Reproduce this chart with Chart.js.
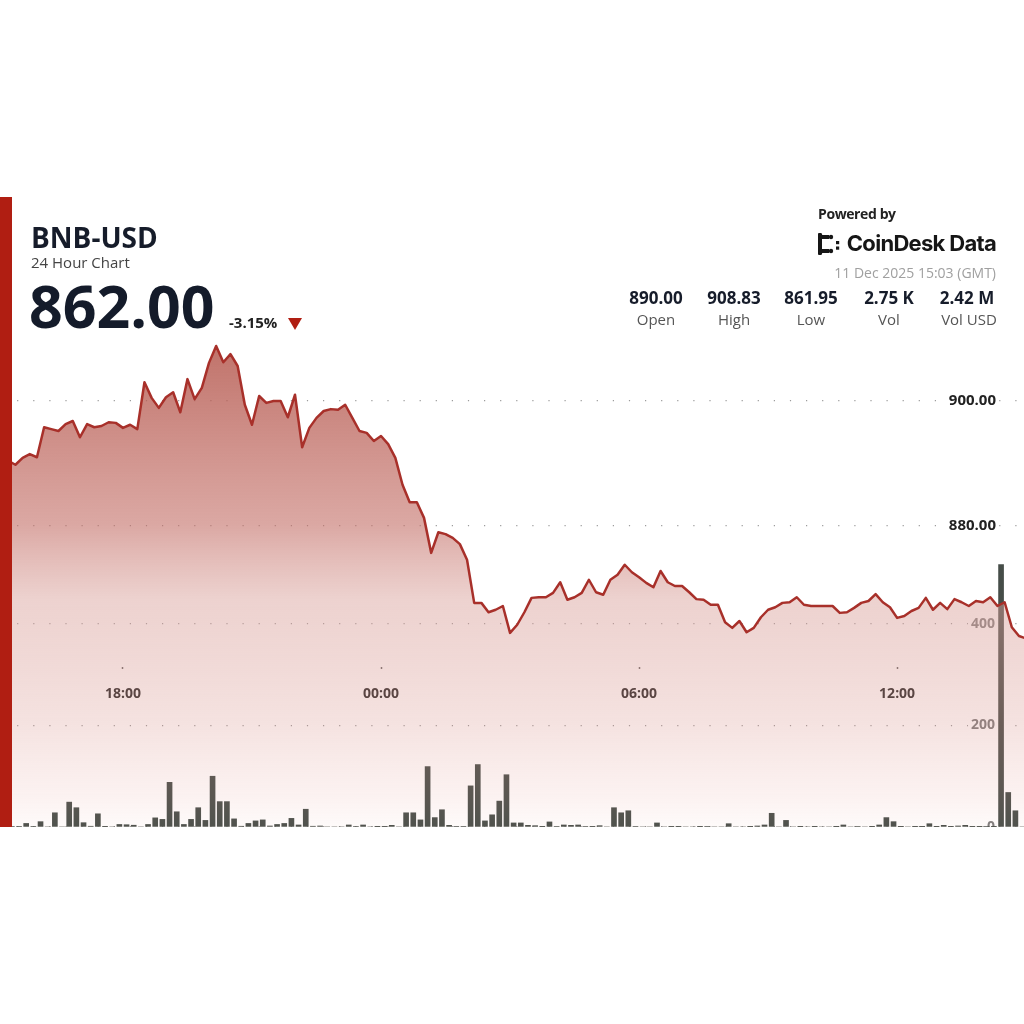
<!DOCTYPE html>
<html>
<head>
<meta charset="utf-8">
<script src="https://cdn.jsdelivr.net/npm/chart.js@4.4.1/dist/chart.umd.min.js"></script>
<style>
  html, body { margin:0; padding:0; background:#fff; }
  body { width:1024px; height:1024px; position:relative; overflow:hidden; font-family:"Open Sans", "Noto Sans", sans-serif; }
  .abs { position:absolute; white-space:nowrap; line-height:1; }
  #redbar { position:absolute; left:0; top:197px; width:12px; height:630px; background:#b01e12; }
  #wrap { position:absolute; left:12px; top:197px; width:1012px; height:630px; }
  .stat { position:absolute; width:78px; text-align:center; line-height:1; }
  .sv { font-weight:700; font-size:17px; color:#161c2a; }
  .sl { font-size:15px; color:#555; }
</style>
</head>
<body>
<div id="wrap"><canvas id="c" width="1012" height="630"></canvas></div>
<div id="redbar"></div>

<div class="abs" style="left:31px; top:223px; font-size:28px; font-weight:700; color:#161c2a;">BNB-USD</div>
<div class="abs" style="left:31px; top:255px; font-size:15px; color:#444;">24 Hour Chart</div>
<div class="abs" style="left:29px; top:276px; font-size:59px; font-weight:700; color:#141b2a;">862.00</div>
<div class="abs" style="left:229px; top:315px; font-size:15px; font-weight:700; color:#222;">-3.15%</div>
<div style="position:absolute; left:288px; top:318px; width:0; height:0; border-left:7.5px solid transparent; border-right:7.5px solid transparent; border-top:12px solid #b01e12;"></div>

<div class="abs" style="left:818px; top:207px; font-size:14px; font-weight:700; color:#222; letter-spacing:-0.4px;">Powered by</div>
<svg style="position:absolute; left:818px; top:233px;" width="24" height="22" viewBox="0 0 24 22">
  <g fill="#161616">
    <rect x="0" y="2" width="4" height="18"/>
    <rect x="0" y="2" width="11" height="4"/>
    <rect x="0" y="16" width="11" height="4"/>
    <circle cx="13" cy="4" r="2.2"/>
    <circle cx="13" cy="18" r="2.2"/>
    <circle cx="2" cy="2" r="2.2"/>
    <circle cx="2" cy="20" r="2.2"/>
    <rect x="18" y="8" width="3.2" height="3.2"/>
    <rect x="18" y="13.5" width="3.2" height="3.2"/>
  </g>
</svg>
<div class="abs" style="right:28px; top:232px; font-family:Inter, 'Open Sans', sans-serif; font-size:22px; font-weight:700; color:#161616; letter-spacing:-0.7px;">CoinDesk Data</div>
<div class="abs" style="right:28px; top:266px; font-size:14px; color:#a0a0a0;">11 Dec 2025 15:03 (GMT)</div>

<div class="stat sv" style="left:617px; top:289px;">890.00</div>
<div class="stat sv" style="left:695px; top:289px;">908.83</div>
<div class="stat sv" style="left:772px; top:289px;">861.95</div>
<div class="stat sv" style="left:850px; top:289px;">2.75 K</div>
<div class="stat sv" style="left:928px; top:289px;">2.42 M</div>
<div class="stat sl" style="left:617px; top:312px;">Open</div>
<div class="stat sl" style="left:695px; top:312px;">High</div>
<div class="stat sl" style="left:772px; top:312px;">Low</div>
<div class="stat sl" style="left:850px; top:312px;">Vol</div>
<div class="stat sl" style="left:930px; top:312px;">Vol USD</div>

<script>
// ---- data (10-minute samples) ----
const startHour = 15 + 20 / 60;     // 15:20 on 10 Dec
const stepHour = 10 / 60;           // 10 minutes

const price = [
  890.4,
  889.8, 890.9, 891.5, 891.0, 895.8, 895.5, 895.2, 896.3, 896.8, 894.2,
  896.3, 895.8, 896.0, 896.6, 896.5, 895.7, 896.2, 895.5, 903.0, 900.5,
  898.9, 900.6, 901.4, 898.2, 903.5, 900.3, 902.1, 906.1, 908.8, 906.2,
  907.5, 905.6, 899.4, 896.2, 900.8, 899.7, 900.0, 900.0, 897.4, 901.0,
  892.6, 895.7, 897.3, 898.4, 898.7, 898.6, 899.4, 897.3, 895.2, 894.9,
  893.6, 894.4, 893.1, 890.9, 886.6, 883.8, 883.8, 881.3, 875.7, 879.0,
  878.7, 878.1, 877.1, 874.6, 867.7, 867.7, 866.2, 866.6, 867.2, 862.9,
  864.2, 866.2, 868.5, 868.6, 868.6, 869.3, 871.0, 868.2, 868.6, 869.3,
  871.4, 869.4, 869.0, 871.4, 872.2, 873.8, 872.6, 871.8, 870.9, 870.2,
  872.8, 871.0, 870.4, 870.4, 869.4, 868.3, 868.2, 867.4, 867.4, 864.6,
  863.7, 864.8, 863.0, 863.7, 865.4, 866.6, 867.0, 867.7, 867.8, 868.6,
  867.4, 867.2, 867.2, 867.2, 867.2, 866.1, 866.2, 866.9, 867.7, 868.0,
  869.1, 867.8, 867.0, 865.3, 865.6, 866.4, 866.9, 868.5, 866.6, 867.7,
  866.7, 868.3, 867.8, 867.2, 868.0, 867.8, 868.6, 867.2, 867.8, 863.8,
  862.4, 862.0
];

const volume = [
  1,
  1, 7, 1, 10.5, 0, 28, 0, 49, 38, 8.5,
  1.5, 26, 0.5, 0, 5, 4.5, 3.5, 0, 5, 18,
  15, 88, 30, 5, 15, 38, 13, 100, 50, 50,
  16, 1.5, 7, 12, 14, 2, 5, 7, 17, 4,
  35, 1.5, 2, 0, 0, 0, 4, 1.3, 4, 0,
  0.5, 0.7, 3.3, 0, 28, 28, 14, 119, 18.5, 34,
  3.3, 1, 1, 81, 123, 12, 24, 51, 103, 8,
  8, 3.3, 2.6, 0.5, 10, 1.3, 4, 3.3, 4, 1.3,
  0.7, 2.6, 0, 38, 28, 32, 1.3, 0, 0, 8,
  0, 0.7, 0.7, 0, 0, 0.5, 1, 0, 0, 6.5,
  0, 0, 0.5, 2, 4, 27, 0, 13, 0, 0.5,
  0, 0.5, 0, 0, 0.5, 4, 0, 1.3, 0, 0.5,
  4, 18.5, 10.5, 0.5, 0, 0.5, 0.5, 6.5, 0.5, 3.3,
  0.5, 2, 3.3, 0.5, 0.5, 1, 0.5, 517, 68, 32,
  0, 0
];

const xTickValues = [18, 24, 30, 36];
const xTickLabels = ['18:00', '00:00', '06:00', '12:00'];
const priceTicks = [880, 900];
const volumeTicks = [0, 200, 400];

// ---- chart ----
const times = price.map((_, i) => startHour + i * stepHour);
const barShift = 5 / 60;
const dotted = [1.2, 14.9];

function fillGradient(c) {
  const chart = c.chart;
  if (!chart.chartArea) return 'rgba(200,120,110,0.5)';
  const g = chart.ctx.createLinearGradient(0, 143, 0, 630);
  g.addColorStop(0, 'rgba(180,88,78,0.85)');
  g.addColorStop(0.38, 'rgba(195,110,102,0.6)');
  g.addColorStop(0.534, 'rgba(217,161,155,0.48)');
  g.addColorStop(0.793, 'rgba(215,143,135,0.25)');
  g.addColorStop(0.945, 'rgba(230,155,147,0.12)');
  g.addColorStop(1, 'rgba(235,170,160,0.06)');
  return g;
}

function flattenY(s) { s.width = 0; s.paddingTop = 0; s.paddingBottom = 0; s.paddingLeft = 0; s.paddingRight = 0; }
function flattenX(s) { s.height = 0; s.paddingTop = 0; s.paddingBottom = 0; s.paddingLeft = 0; s.paddingRight = 0; }

new Chart(document.getElementById('c'), {
  type: 'line',
  data: {
    datasets: [
      {
        type: 'line',
        data: times.map((t, i) => ({ x: t, y: price[i] })),
        yAxisID: 'y',
        borderColor: '#a8302a',
        borderWidth: 2.5,
        pointRadius: 0,
        tension: 0,
        fill: 'start',
        backgroundColor: fillGradient,
        borderJoinStyle: 'round',
        order: 0
      },
      {
        type: 'bar',
        data: times.map((t, i) => ({ x: t + barShift, y: volume[i] })),
        yAxisID: 'y1',
        backgroundColor: '#464d48',
        barThickness: 5,
        order: 1
      }
    ]
  },
  options: {
    responsive: false,
    animation: false,
    devicePixelRatio: 1,
    layout: { padding: 0 },
    plugins: { legend: { display: false }, tooltip: { enabled: false } },
    scales: {
      x: {
        type: 'linear',
        min: 15.42,
        max: 38.95,
        offset: false,
        position: { y: 857.44 },
        afterBuildTicks: (s) => { s.ticks = xTickValues.map(v => ({ value: v })); },
        afterFit: flattenX,
        ticks: {
          autoSkip: false, maxRotation: 0,
          callback: (v, i) => xTickLabels[i],
          color: '#222',
          font: { family: 'Open Sans', size: 14, weight: 'bold' },
          padding: 17
        },
        grid: { offset: false, drawOnChartArea: false, drawTicks: true, tickLength: 2, tickColor: '#666', tickWidth: 1.5 },
        border: { display: false }
      },
      y: {
        type: 'linear',
        position: 'right',
        min: 831.84,
        max: 932.64,
        afterBuildTicks: (s) => { s.ticks = priceTicks.map(v => ({ value: v })); },
        afterFit: flattenY,
        ticks: {
          mirror: true,
          padding: -28,
          callback: (v) => Number(v).toFixed(2),
          color: '#222',
          font: { family: 'Open Sans', size: 15, weight: 'bold' },
          showLabelBackdrop: true,
          backdropColor: '#ffffff',
          backdropPadding: { x: 3, y: 1 }
        },
        grid: { color: '#9c9c9c', lineWidth: 1.2, drawTicks: false },
        border: { display: false, dash: dotted, dashOffset: 11 }
      },
      y1: {
        type: 'linear',
        position: 'right',
        min: 0,
        max: 1241,
        afterBuildTicks: (s) => { s.ticks = volumeTicks.map(v => ({ value: v })); },
        afterFit: flattenY,
        ticks: {
          mirror: true,
          padding: -29,
          callback: (v) => String(v),
          color: '#7c7c7c',
          font: { family: 'Open Sans', size: 14, weight: 'bold' },
          showLabelBackdrop: true,
          backdropColor: '#ffffff',
          backdropPadding: { x: 3, y: 1 }
        },
        grid: { color: '#9c9c9c', lineWidth: 1.2, drawTicks: false },
        border: { display: false, dash: dotted, dashOffset: 11 }
      }
    }
  }
});
</script>
</body>
</html>
